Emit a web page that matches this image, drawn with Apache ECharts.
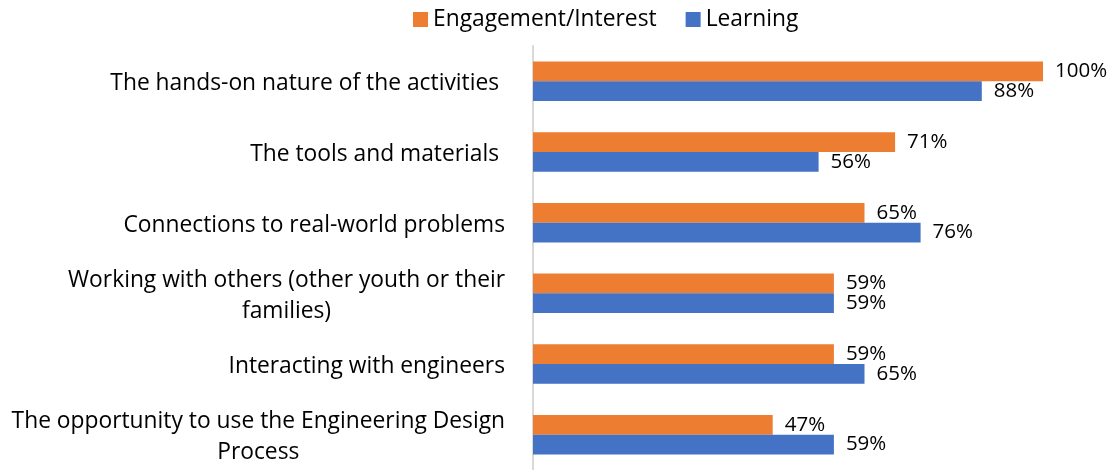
<!DOCTYPE html>
<html>
<head>
<meta charset="utf-8">
<script src="https://cdn.jsdelivr.net/npm/echarts@6/dist/echarts.min.js"></script>
<style>
  html, body { margin: 0; padding: 0; background: #fff; }
  #chart { width: 1119px; height: 470px; }
</style>
</head>
<body>
<div id="chart"></div>
<script>
// Survey items, listed top to bottom
const categories = [
  'The hands-on nature of the activities ',
  'The tools and materials ',
  'Connections to real-world problems',
  'Working with others (other youth or their\nfamilies)',
  'Interacting with engineers',
  'The opportunity to use the Engineering Design\nProcess'
];
// Percent of respondents
const engagement = [100, 71, 65, 59, 59, 47];
const learning = [88, 56, 76, 59, 65, 59];
const seriesNames = ['Engagement/Interest', 'Learning'];

const FONT = '"Open Sans", "Liberation Sans", sans-serif';
const chart = echarts.init(document.getElementById('chart'), null, { renderer: 'canvas' });

const valueLabel = {
  show: true,
  position: 'right',
  distance: 12,
  formatter: p => p.value + '%',
  color: '#000',
  fontSize: 20.5,
  fontFamily: FONT
};

chart.setOption({
  animation: false,
  textStyle: { fontFamily: FONT },
  legend: {
    top: 3,
    left: 408,
    itemWidth: 15,
    itemHeight: 15,
    itemGap: 29,
    icon: 'rect',
    textStyle: { fontSize: 22.8, color: '#000', fontFamily: FONT },
    data: seriesNames
  },
  grid: { left: 533, top: 46, right: 76, height: 427, containLabel: false },
  xAxis: {
    type: 'value',
    min: 0,
    max: 100,
    show: false
  },
  yAxis: {
    type: 'category',
    inverse: true,
    data: categories,
    axisLine: { show: true, lineStyle: { color: '#d9d9d9', width: 2 } },
    axisTick: { show: false },
    axisLabel: {
      margin: 28,
      align: 'right',
      fontSize: 22.8,
      color: '#000',
      fontFamily: FONT,
      lineHeight: 31,
      padding: [5, 0, 0, 0],
      formatter: v => v.split('\n').map(s => '{c|' + s + '}').join('\n'),
      rich: { c: { align: 'center', fontSize: 22.8, lineHeight: 31, fontFamily: FONT, color: '#000' } }
    }
  },
  series: [
    {
      name: seriesNames[0],
      type: 'bar',
      data: engagement,
      itemStyle: { color: '#ED7D31' },
      barGap: '0%',
      barCategoryGap: '44%',
      label: valueLabel
    },
    {
      name: seriesNames[1],
      type: 'bar',
      data: learning,
      itemStyle: { color: '#4472C4' },
      barGap: '0%',
      barCategoryGap: '44%',
      label: valueLabel
    }
  ]
});
</script>
</body>
</html>
